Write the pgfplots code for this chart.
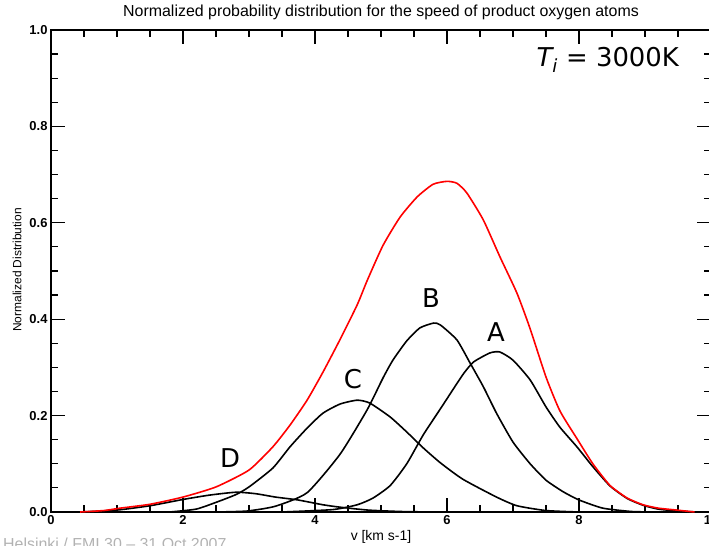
\documentclass[border=0pt]{standalone}
\usepackage{pgfplots}
\pgfplotsset{compat=1.18}
\usepackage{fontspec}
\setmainfont{Liberation Sans}
\newfontfamily\dejavu{DejaVu Sans}

\begin{document}
\begin{tikzpicture}
\begin{axis}[
  at={(0,0)}, anchor=south west,
  scale only axis, width=660bp, height=482bp,
  xmin=0, xmax=10, ymin=0, ymax=1,
  xtick={0,2,4,6,8,10}, xticklabels={0,2,4,6,8,10},
  ytick={0,0.2,0.4,0.6,0.8,1.0}, yticklabels={0.0,0.2,0.4,0.6,0.8,1.0},
  minor x tick num=3, minor y tick num=3,
  tick align=inside, major tick length=14bp, minor tick length=7bp,
  every tick/.style={black, line width=1.2bp},
  axis line style={line width=1.5bp},
  tick label style={font=\fontsize{13}{14}\selectfont\bfseries},
  every axis plot/.append style={smooth, tension=0.35, line width=1.6bp},
  clip=false,
]
\addplot[black] coordinates {
(0.45,0.0) (1.0,0.004) (1.5,0.013) (2.0,0.026) (2.4,0.035) (2.8,0.041) (3.1,0.038)
(3.4,0.031) (3.74,0.025) (4.12,0.015) (4.38,0.01) (4.8,0.004) (5.3,0.001) (5.8,0.0)
};
\addplot[black] coordinates {
(1.8,0.0) (2.2,0.006) (2.5,0.02) (2.8,0.036) (3.0,0.052) (3.36,0.091) (3.62,0.135)
(3.88,0.174) (4.12,0.205) (4.38,0.224) (4.64,0.232) (4.83,0.226) (5.14,0.197)
(5.39,0.166) (5.64,0.133) (5.9,0.102) (6.24,0.068) (6.75,0.031) (7.06,0.013)
(7.5,0.003) (8.0,0.0)
};
\addplot[black] coordinates {
(2.5,0.0) (2.97,0.002) (3.4,0.012) (3.88,0.04) (4.38,0.12) (4.79,0.212) (5.03,0.278)
(5.18,0.315) (5.39,0.355) (5.59,0.382) (5.8,0.392) (5.9,0.388) (6.15,0.357)
(6.35,0.309) (6.55,0.26) (6.75,0.205) (7.0,0.145) (7.26,0.10) (7.5,0.066)
(7.76,0.042) (8.0,0.025) (8.36,0.008) (8.8,0.001) (9.2,0.0)
};
\addplot[black] coordinates {
(3.5,0.0) (4.27,0.005) (4.64,0.015) (4.88,0.029) (5.14,0.055) (5.39,0.10)
(5.64,0.16) (5.89,0.212) (6.0,0.235) (6.24,0.285) (6.4,0.311) (6.65,0.33)
(6.8,0.332) (7.0,0.315) (7.26,0.274) (7.5,0.218) (7.71,0.176) (7.97,0.135)
(8.21,0.094) (8.47,0.054) (8.73,0.028) (8.97,0.014) (9.2,0.006) (9.5,0.002) (9.8,0.0)
};
\addplot[red] coordinates {
(0.44,0.0) (0.8,0.003) (1.05,0.008) (1.5,0.016) (2.0,0.031) (2.5,0.052) (3.0,0.087)
(3.36,0.135) (3.62,0.18) (3.88,0.232) (4.12,0.29) (4.38,0.358) (4.64,0.43)
(4.79,0.48) (5.03,0.553) (5.29,0.612) (5.55,0.654) (5.79,0.68) (6.0,0.686)
(6.15,0.682) (6.3,0.662) (6.55,0.606) (6.8,0.53) (7.06,0.454) (7.26,0.38)
(7.5,0.28) (7.71,0.21) (7.97,0.152) (8.21,0.10) (8.47,0.055) (8.73,0.029)
(8.97,0.015) (9.2,0.008) (9.48,0.004) (9.75,0.0)
};
\end{axis}
% texts (1bp = 1px of the reference; origin at the axis corner)
\node[font=\fontsize{16}{18}\selectfont] at (330bp,500bp) {Normalized probability distribution for the speed of product oxygen atoms};
\node[font=\fontsize{14}{16}\selectfont] at (330bp,-25bp) {v [km s-1]};
\node[font=\fontsize{12}{14}\selectfont, rotate=90] at (-34bp,242bp) {Normalized Distribution};
\node[font=\dejavu\fontsize{26}{28}\selectfont] at (179bp,54bp) {D};
\node[font=\dejavu\fontsize{26}{28}\selectfont] at (302bp,133bp) {C};
\node[font=\dejavu\fontsize{26}{28}\selectfont] at (380bp,214bp) {B};
\node[font=\dejavu\fontsize{26}{28}\selectfont] at (445bp,180bp) {A};
\node[font=\dejavu\fontsize{26}{28}\selectfont, anchor=west] at (482bp,452bp) {\itshape T\textsubscript{\itshape i}\upshape{} = 3000K};
\node[font=\fontsize{16}{18}\selectfont, text=black!30, anchor=base east] at (179bp,-37bp) {Helsinki / FMI 30 -- 31 Oct 2007};
\pgfresetboundingbox
\useasboundingbox (-51bp,-34bp) rectangle (658bp,512bp);
\end{tikzpicture}
\end{document}
